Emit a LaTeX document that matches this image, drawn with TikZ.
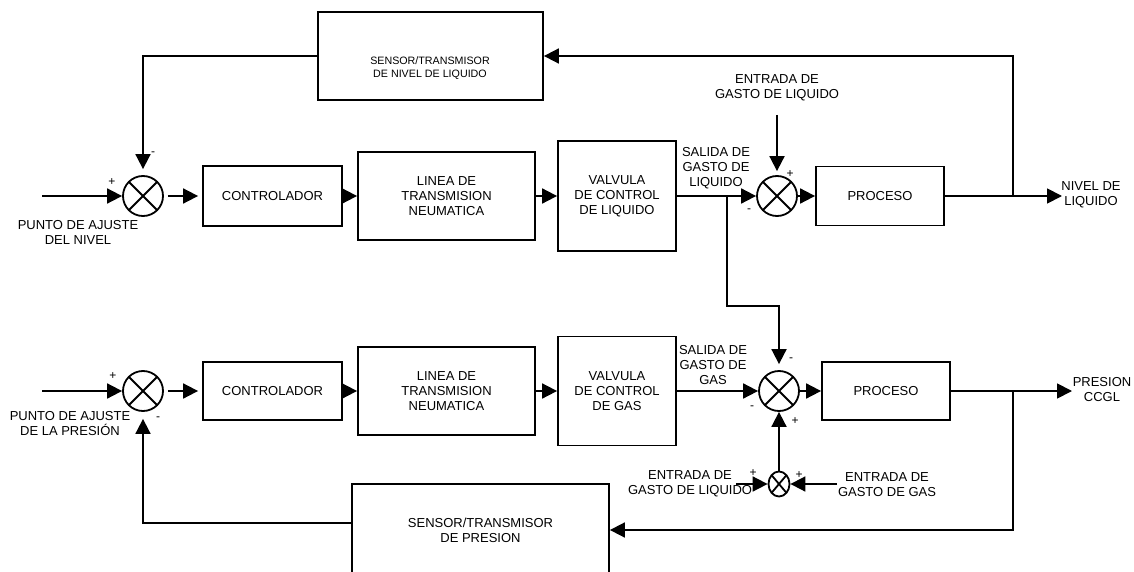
\documentclass[tikz,border=0pt]{standalone}
\usepackage{fontspec}
\setmainfont{Liberation Sans}
\usetikzlibrary{arrows.meta, positioning, shapes.geometric, calc}
\newcommand{\mainsize}{\fontsize{13}{15}\selectfont}
\newcommand{\sensorsize}{\fontsize{10.7}{13}\selectfont}
\newcommand{\signsize}{\fontsize{12}{12}\selectfont}
\tikzset{
    blockbox/.style={
        rectangle,
        draw,
        line width=1.8pt,
        align=center,
        font=\mainsize
    },
    sumjunc/.style={
        circle,
        draw,
        line width=1.8pt,
        minimum size=40pt,
        inner sep=0pt,
        path picture={\draw[line width=1.8pt]
            (path picture bounding box.north west) -- (path picture bounding box.south east)
            (path picture bounding box.south west) -- (path picture bounding box.north east);}
    },
    smalljunc/.style={
        ellipse,
        draw,
        line width=1.8pt,
        minimum width=21pt,
        minimum height=25pt,
        inner sep=0pt,
        path picture={\draw[line width=1.8pt]
            (path picture bounding box.north west) -- (path picture bounding box.south east)
            (path picture bounding box.south west) -- (path picture bounding box.north east);}
    },
    flowarrow/.style={-{Triangle[length=15pt, width=15pt]}, line width=1.8pt},
    sig/.style={font=\signsize, inner sep=0pt},
    lbl/.style={align=center, font=\mainsize, inner sep=0pt}
}

\begin{document}
\begin{tikzpicture}[x=1pt, y=-1pt]
    \useasboundingbox (0,0) rectangle (1134,572);
    \clip (0,0) rectangle (1134,572);

    % lazo de nivel
    \node[sumjunc] (sumA) at (143,196) {};
    \node[blockbox, minimum width=139pt, minimum height=60pt] (ctrlA) at (272.5,196) {CONTROLADOR};
    \node[blockbox, minimum width=177pt, minimum height=88pt] (lineaA) at (446.5,196) {LINEA DE\\TRANSMISION\\NEUMATICA};
    \node[blockbox, minimum width=118pt, minimum height=110pt] (valvA) at (617,196) {VALVULA\\DE CONTROL\\DE LIQUIDO};
    \node[sumjunc] (sumB) at (777,196) {};
    \node[blockbox, minimum width=128pt, minimum height=59pt] (procA) at (880,196) {PROCESO};
    \node[blockbox, minimum width=225pt, minimum height=88pt] (lsens) at (430.5,56) {};
    \node[lbl, font=\sensorsize] (lsenstxt) at (430,68) {SENSOR/TRANSMISOR\\DE NIVEL DE LIQUIDO};

    \coordinate (inA) at (42,196);
    \coordinate (tapL) at (727,196);
    \coordinate (tapN) at (1013,196);
    \coordinate (outA) at (1062,196);
    \coordinate (inLiqA) at (777,115);

    \draw[flowarrow] (inA) -- (sumA);
    \draw[flowarrow, shorten <=4pt, shorten >=4pt] (sumA) -- (ctrlA);
    \draw[flowarrow] (ctrlA) -- (lineaA);
    \draw[flowarrow] (lineaA) -- (valvA);
    \draw[flowarrow] (valvA) -- (sumB);
    \draw[flowarrow] (sumB) -- (procA);
    \draw[flowarrow] (procA) -- (outA);
    \draw[flowarrow] (tapN) |- (lsens);
    \draw[flowarrow, shorten >=6pt] (lsens) -| (sumA);
    \draw[flowarrow, shorten >=4pt] (inLiqA) -- (sumB);

    \node[sig] (pA) at (112,182) {+};
    \node[sig] (mA) at (153,154) {-};
    \node[sig] (pB) at (790,174) {+};
    \node[sig] (mB) at (749,211) {-};

    \node[lbl] (setA) at (78,232) {PUNTO DE AJUSTE\\DEL NIVEL};
    \node[lbl] (salA) at (716,168) {SALIDA DE\\GASTO DE\\LIQUIDO};
    \node[lbl] (entA) at (777,88) {ENTRADA DE\\GASTO DE LIQUIDO};
    \node[lbl] (nivA) at (1091,195) {NIVEL DE\\LIQUIDO};

    % lazo de presion
    \node[sumjunc] (sumC) at (143,391) {};
    \node[blockbox, minimum width=139pt, minimum height=58pt] (ctrlB) at (272.5,391) {CONTROLADOR};
    \node[blockbox, minimum width=177pt, minimum height=88pt] (lineaB) at (446.5,391) {LINEA DE\\TRANSMISION\\NEUMATICA};
    \node[blockbox, minimum width=118pt, minimum height=109pt] (valvB) at (617,391) {VALVULA\\DE CONTROL\\DE GAS};
    \node[sumjunc] (sumD) at (779,391) {};
    \node[blockbox, minimum width=128pt, minimum height=58pt] (procB) at (886,391) {PROCESO};
    \node[blockbox, minimum width=257pt, minimum height=92pt] (psens) at (480.5,530) {SENSOR/TRANSMISOR\\DE PRESION};
    \node[smalljunc] (sumE) at (779,484) {};

    \coordinate (inC) at (42,391);
    \coordinate (tapP) at (1013,391);
    \coordinate (outB) at (1072,391);
    \coordinate (inLiqB) at (736,484);
    \coordinate (inGasB) at (837,484);

    \draw[flowarrow] (inC) -- (sumC);
    \draw[flowarrow, shorten <=4pt, shorten >=4pt] (sumC) -- (ctrlB);
    \draw[flowarrow] (ctrlB) -- (lineaB);
    \draw[flowarrow] (lineaB) -- (valvB);
    \draw[flowarrow] (valvB) -- (sumD);
    \draw[flowarrow] (sumD) -- (procB);
    \draw[flowarrow] (procB) -- (outB);
    \draw[flowarrow] (tapP) |- (psens);
    \draw[flowarrow, shorten >=7pt] ([yshift=7pt]psens.west) -| (sumC);
    \draw[flowarrow, shorten >=6pt] (tapL) -- ++(0,110) -| (sumD);
    \draw[flowarrow] (sumE) -- (sumD);
    \draw[flowarrow] (inLiqB) -- (sumE);
    \draw[flowarrow] (inGasB) -- (sumE);

    \node[sig] (pC) at (113,376) {+};
    \node[sig] (mC) at (158,419) {-};
    \node[sig] (mD) at (752,408) {-};
    \node[sig] (mE) at (791,360) {-};
    \node[sig] (pD) at (795,421) {+};
    \node[sig] (pE) at (753,473) {+};
    \node[sig] (pF) at (799,475) {+};

    \node[lbl] (setC) at (70,424) {PUNTO DE AJUSTE\\DE LA PRESIÓN};
    \node[lbl] (salB) at (713,365) {SALIDA DE\\GASTO DE\\GAS};
    \node[lbl] (presB) at (1102,390) {PRESION\\CCGL};
    \node[lbl] (entLiqB) at (690,484) {ENTRADA DE\\GASTO DE LIQUIDO};
    \node[lbl] (entGasB) at (887,485) {ENTRADA DE\\GASTO DE GAS};
\end{tikzpicture}
\end{document}
